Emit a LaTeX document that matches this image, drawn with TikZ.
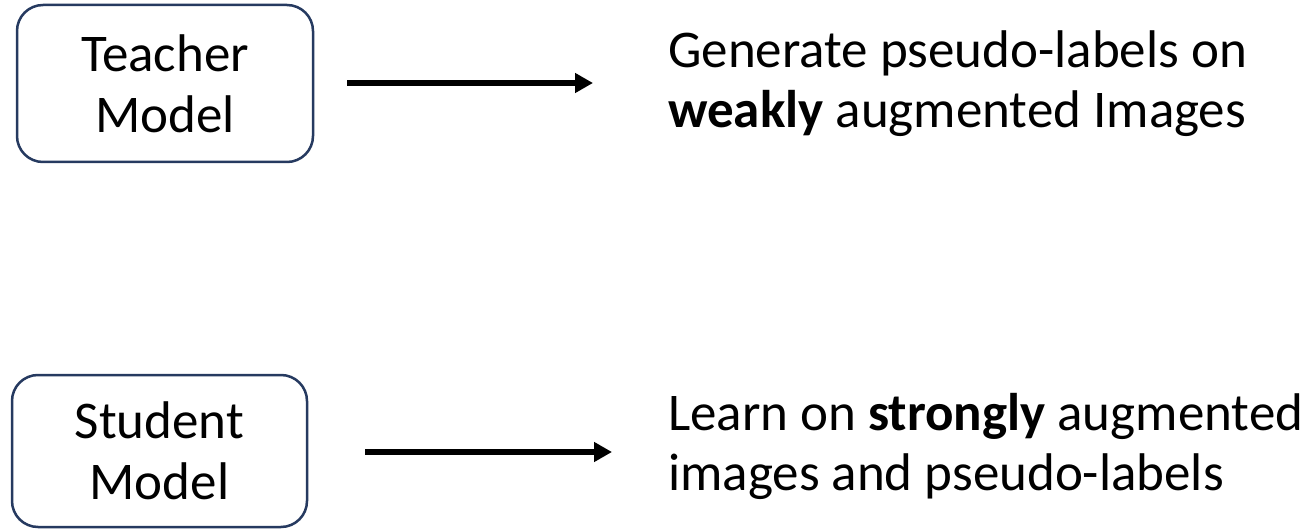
\documentclass[tikz,border=0pt]{standalone}
\usepackage{fontspec}
\setmainfont{Carlito}
\usetikzlibrary{arrows.meta}
\definecolor{boxblue}{RGB}{38,58,96}
\tikzset{
  modelbox/.style={draw=boxblue, line width=2.5pt, rounded corners=26pt, fill=white,
    inner sep=0pt, align=center, font=\fontsize{53}{61}\selectfont},
  txt/.style={anchor=base west, inner sep=0pt, font=\fontsize{53}{61}\selectfont},
  arr/.style={line width=5.5pt, -{Triangle[length=18pt,width=19pt]}}
}
\begin{document}
\begin{tikzpicture}[x=1pt,y=-1pt]
\useasboundingbox (0,0) rectangle (1313,529);
\node[modelbox, minimum width=296pt, minimum height=157pt] (teacher) at (165,83.5) {Teacher\\Model};
\node[modelbox, minimum width=295pt, minimum height=152pt] (student) at (159.5,451) {Student\\Model};
\coordinate (a1s) at (347,83);
\coordinate (a1e) at (593,83);
\coordinate (a2s) at (365,452);
\coordinate (a2e) at (612,452);
\draw[arr] (a1s) -- (a1e);
\draw[arr] (a2s) -- (a2e);
\node[txt] (t1) at (668,68) {Generate pseudo-labels on};
\node[txt] (t2) at (668,128) {\textbf{weakly} augmented Images};
\node[txt] (s1) at (668,430) {Learn on \textbf{strongly} augmented};
\node[txt] (s2) at (668,490) {images and pseudo-labels};
\end{tikzpicture}
\end{document}
